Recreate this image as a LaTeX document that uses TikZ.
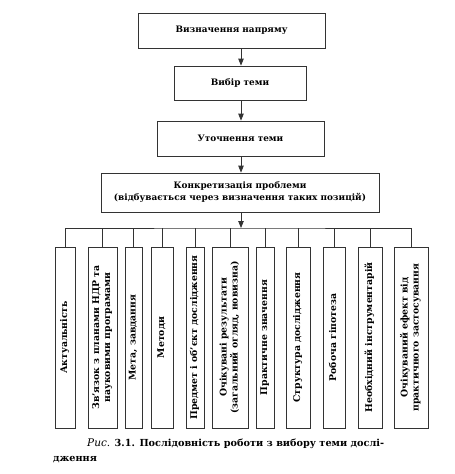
\documentclass[tikz,border=0pt]{standalone}
\usepackage{fontspec}
\usepackage{graphicx}
\setmainfont{DejaVu Serif}
\usetikzlibrary{arrows.meta}
\newcommand{\vtext}[1]{\rotatebox{90}{\begin{tabular}{@{}c@{}}#1\end{tabular}}}
\begin{document}
\begin{tikzpicture}[x=1pt,y=-1pt,
  ln/.style={draw=black!80, line width=0.8pt},
  box/.style={ln, inner sep=0pt, align=center, font=\bfseries\fontsize{8.9}{12}\selectfont},
  vbox/.style={ln, inner sep=0pt, minimum height=181pt, font=\bfseries\fontsize{9.3}{11}\selectfont},
  arr/.style={ln, -{Triangle[length=7pt,width=5.5pt]}}]
\useasboundingbox (0,0) rectangle (455,474);
\fill[white] (0,0) rectangle (455,474);
% top chain
\node[box, minimum width=187pt, minimum height=35pt] (a) at (231.5,30.5) {Визначення напряму};
\node[box, minimum width=132pt, minimum height=34pt] (b) at (240,83) {Вибір теми};
\node[box, minimum width=167pt, minimum height=35pt] (c) at (240.5,138.5) {Уточнення теми};
\node[box, minimum width=278pt, minimum height=39pt] (d) at (240,192.5) {Конкретизація проблеми\\(відбувається через визначення таких позицій)};
\coordinate (ax) at (241,0);
\coordinate (bus) at (241,228);
\draw[arr] (a.south -| ax) -- (b.north -| ax);
\draw[arr] (b.south -| ax) -- (c.north -| ax);
\draw[arr] (c.south -| ax) -- (d.north -| ax);
\draw[arr] (d.south -| ax) -- (bus);
% bottom boxes
\node[vbox, minimum width=20pt] (p1) at (65,337.5) {\vtext{Актуальність}};
\node[vbox, minimum width=29pt] (p2) at (102.5,337.5) {\vtext{Зв’язок з планами НДР та\\науковими програмами}};
\node[vbox, minimum width=17pt] (p3) at (133.5,337.5) {\vtext{Мета, завдання}};
\node[vbox, minimum width=22pt] (p4) at (162,337.5) {\vtext{Методи}};
\node[vbox, minimum width=18pt] (p5) at (195,337.5) {\vtext{Предмет і об’єкт дослідження}};
\node[vbox, minimum width=36pt] (p6) at (230,337.5) {\vtext{Очікувані результати\\(загальний огляд, новизна)}};
\node[vbox, minimum width=18pt] (p7) at (265,337.5) {\vtext{Практичне значення}};
\node[vbox, minimum width=24pt] (p8) at (298,337.5) {\vtext{Структура дослідження}};
\node[vbox, minimum width=22pt] (p9) at (334,337.5) {\vtext{Робоча гіпотеза}};
\node[vbox, minimum width=24pt] (p10) at (370,337.5) {\vtext{Необхідний інструментарій}};
\node[vbox, minimum width=34pt] (p11) at (411,337.5) {\vtext{Очікуваний ефект від\\практичного застосування}};
\draw[ln] (p1.north) |- (bus) -| (p11.north);
\foreach \i in {2,...,10} \draw[ln] (p\i.north) -- (p\i.north |- bus);
% caption
\node[anchor=north west, align=left, inner sep=0pt, font=\bfseries\fontsize{9.7}{15}\selectfont] (cap) at (53,439)
  {\hspace*{34pt}{\mdseries\itshape\fontsize{10.5}{15}\selectfont Рис.} 3.1. Послідовність роботи з вибору теми дослі-\\дження};
\end{tikzpicture}
\end{document}
